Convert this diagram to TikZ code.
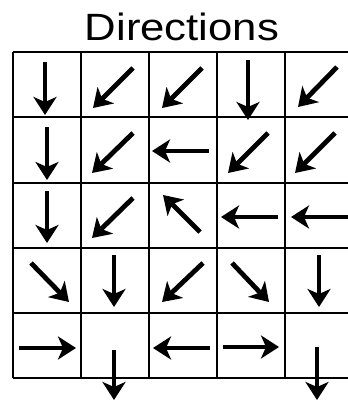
\documentclass[tikz,border=0pt]{standalone}
\usepackage{fontspec}
\setmainfont{Liberation Sans}
\usetikzlibrary{arrows.meta}
\tikzset{
  gridline/.style={line width=1.3pt, black},
  thickline/.style={line width=2.2pt, black},
  arr/.style={line width=4.8pt, -{Stealth[length=18pt,width=23pt,inset=5pt]}},
}
\begin{document}
\begin{tikzpicture}[x=1pt,y=-1pt]
\useasboundingbox (0,0) rectangle (347,403);
\node[anchor=base, inner sep=0pt] (title) at (182,41) {\scalebox{1.15}[1]{\fontsize{38pt}{40pt}\selectfont Directions}};
% grid
\foreach \y in {52,117,183,248,313,378} \draw[gridline] (13,\y) -- (355,\y);
\foreach \x in {13,81,149,217} \draw[gridline] (\x,52) -- (\x,378);
\draw[thickline] (285,52) -- (285,378);
% row 1
\draw[arr] (45,62) -- (45,115);
\draw[arr] (133,68) -- (93,108);
\draw[arr] (202,68) -- (162,108);
\draw[arr] (248,60) -- (248,120);
\draw[arr] (337,67) -- (298,107);
% row 2
\draw[arr] (47,127) -- (47,180);
\draw[arr] (133,133) -- (92,173);
\draw[arr] (209,151) -- (152,151);
\draw[arr] (268,133) -- (228,173);
\draw[arr] (335,133) -- (295,173);
% row 3
\draw[arr] (47,191) -- (47,243);
\draw[arr] (133,198) -- (92,238);
\draw[arr] (200,232) -- (163,195);
\draw[arr] (278,217) -- (221,217);
\draw[arr] (350,217) -- (291,217);
% row 4
\draw[arr] (31,263) -- (69,302);
\draw[arr] (114,255) -- (114,307);
\draw[arr] (203,263) -- (162,302);
\draw[arr] (232,263) -- (269,302);
\draw[arr] (319,255) -- (319,307);
% row 5
\draw[arr] (19,348) -- (76,348);
\draw[arr] (114,350) -- (114,400);
\draw[arr] (210,348) -- (153,348);
\draw[arr] (223,347) -- (279,347);
\draw[arr] (317,347) -- (317,400);
\end{tikzpicture}
\end{document}
